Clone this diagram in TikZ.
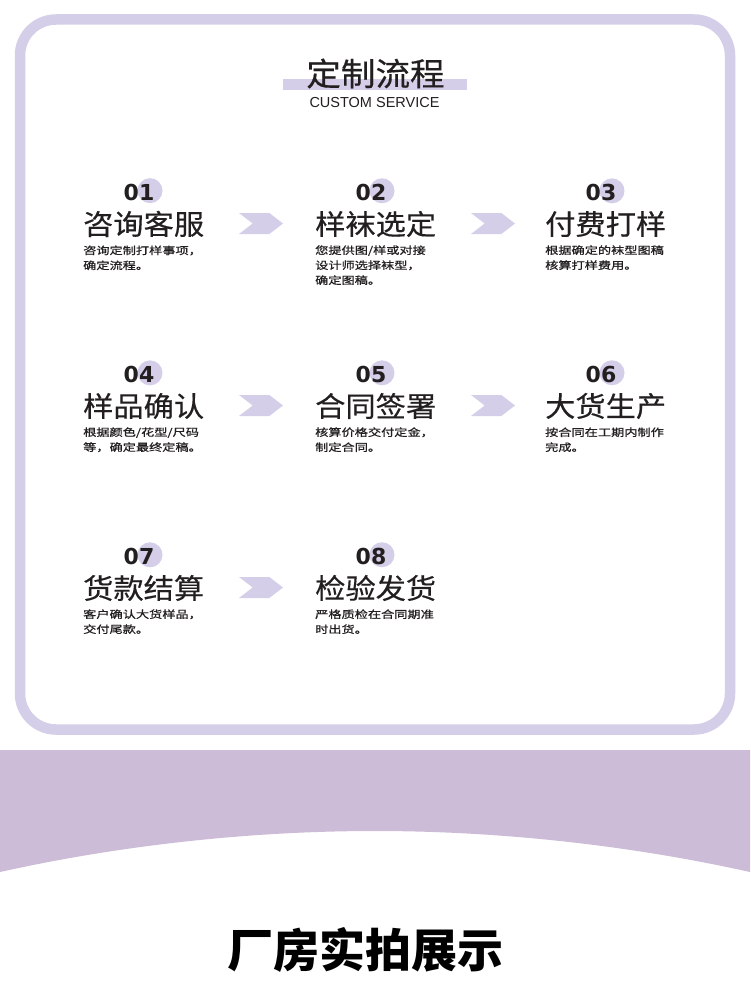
\documentclass[tikz,border=0pt]{standalone}
\usepackage{fontspec}
\setmainfont{Liberation Sans}
\newfontfamily\cjk{Noto Sans CJK SC}
\newfontfamily\cjkwide{Noto Sans CJK SC}[FakeStretch=1.28,FakeBold=0.8]
\newfontfamily\cjktitle{Noto Sans CJK SC}[FakeStretch=1.08,FakeBold=0.4]
\newfontfamily\numfont{DejaVu Sans}
\usetikzlibrary{shapes.symbols,positioning}
\definecolor{lilac}{HTML}{D4CEE8}
\definecolor{bandlilac}{HTML}{CDBCD7}
\definecolor{ink}{HTML}{231F20}

\begin{document}
\begin{tikzpicture}[x=1pt,y=-1pt,
  steptitle/.style={anchor=west,inner sep=0,text=ink,font=\cjktitle\fontsize{28}{30}\selectfont},
  stepdesc/.style={inner sep=0,align=left,text=ink,font=\cjkwide\fontsize{10.3}{15}\selectfont},
  stepnum/.style={inner sep=0,text=ink,font=\numfont\bfseries\fontsize{22}{22}\selectfont},
  stepdot/.style={circle,fill=lilac,minimum size=25pt,inner sep=0},
  chevron/.style={signal,signal to=east,signal from=west,signal pointer angle=75,
    fill=lilac,minimum width=44pt,minimum height=21pt,inner sep=0}]
\useasboundingbox (0,0) rectangle (750,998);
\fill[white] (0,0) rectangle (750,998);
% frame and band
\draw[lilac,line width=10.5pt,rounded corners=36pt] (20,19.5) rectangle (730,729.5);
\fill[bandlilac] (0,750) -- (750,750) -- (750,872) parabola bend (375,831) (0,872) -- cycle;
% heading
\fill[lilac] (283,79) rectangle (467,90);
\node[inner sep=0,text=ink,font=\cjktitle\fontsize{32}{34}\selectfont] (head) at (375.5,73.5) {定制流程};
\node[inner sep=0,text=ink,font=\fontsize{14.5}{16}\selectfont] (headsub) at (374.5,102.5) {CUSTOM SERVICE};
% steps
\foreach \i/\x/\y/\ttl/\dsc in {
  1/83/224/咨询客服/{咨询定制打样事项，\\确定流程。},
  2/315/224/样袜选定/{您提供图/样或对接\\设计师选择袜型，\\确定图稿。},
  3/545/224/付费打样/{根据确定的袜型图稿\\核算打样费用。},
  4/83/406/样品确认/{根据颜色/花型/尺码\\等，确定最终定稿。},
  5/315/406/合同签署/{核算价格交付定金，\\制定合同。},
  6/545/406/大货生产/{按合同在工期内制作\\完成。},
  7/83/588/货款结算/{客户确认大货样品，\\交付尾款。},
  8/315/588/检验发货/{严格质检在合同期准\\时出货。}} {
  \node[steptitle] (t\i) at (\x,\y) {\ttl};
  \node[stepdot] (c\i) at ([xshift=67pt,yshift=20pt]t\i.north west) {};
  \node[stepnum] (n\i) at ([xshift=-11pt,yshift=-2pt]c\i.center) {0\i};
  \node[stepdesc,below=8pt of t\i.south west,anchor=north west] (d\i) {\dsc};
}
\foreach \i in {1,2,4,5,7}
  \node[chevron] (a\i) at ([xshift=178pt,yshift=0.5pt]t\i.west) {};
% showcase heading
\node[inner sep=0,font=\cjk\bfseries\fontsize{46}{50}\selectfont] (showcase) at (365,950) {厂房实拍展示};
\end{tikzpicture}
\end{document}
